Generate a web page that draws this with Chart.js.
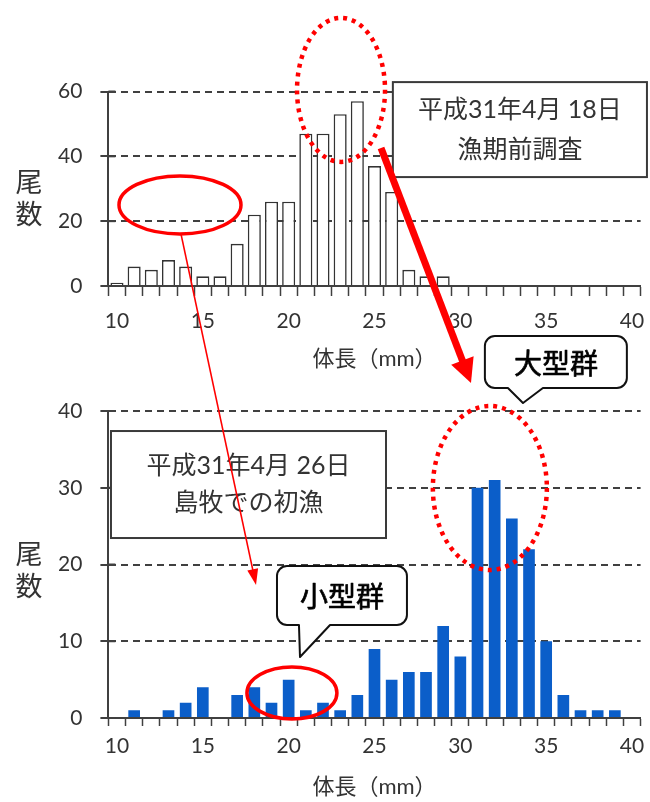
<!DOCTYPE html>
<html><head><meta charset="utf-8">
<script src="https://cdn.jsdelivr.net/npm/chart.js@4"></script>
<style>
html,body{margin:0;padding:0;background:#fff;}
#wrap{position:relative;width:650px;height:802px;overflow:hidden;background:#fff;}
#c1{position:absolute;left:0;top:0;}
#c2{position:absolute;left:0;top:395px;}
#ov{position:absolute;left:0;top:0;pointer-events:none;}
</style></head><body>
<div id="wrap">
<canvas id="c1" width="650" height="395"></canvas>
<canvas id="c2" width="650" height="407"></canvas>
<canvas id="ov" width="650" height="802"></canvas>
</div>
<script>
// ---- data ----
const lengthsMm = ['10','11','12','13','14','15','16','17','18','19','20','21','22','23','24','25','26','27','28','29','30','31','32','33','34','35','36','37','38','39','40'];
const preSeasonCounts  = [1,6,5,8,6,3,3,13,22,26,26,47,47,53,57,37,29,5,3,3,0,0,0,0,0,0,0,0,0,0,0];
const firstCatchCounts = [0,1,0,1,2,4,0,3,4,2,5,1,2,1,3,9,5,6,6,12,8,30,31,26,22,10,3,1,1,1,0];
const yTicksTop = [0,20,40,60];
const yTicksBottom = [0,10,20,30,40];
const xLabelStep = 5;
const xTitle = '体長（mm）';
const yTitleChars = ['尾','数'];
const boxTopLines = ['平成31年4月 18日','漁期前調査'];
const boxBottomLines = ['平成31年4月 26日','島牧での初漁'];
const bigGroupLabel = '大型群';
const smallGroupLabel = '小型群';

// ---- styles ----
const AX = '#404040', TXT = '#333333';
const NUM = 'Lato, "Noto Sans CJK JP", sans-serif';
const JP = 'Lato, "Noto Sans CJK JP", sans-serif';
const RED = '#ff0000';

// inner half of the y tick marks (ticks cross the axis line)
const crossTicks = {
  id:'crossTicks',
  afterDraw(chart){
    const y = chart.scales.y, c = chart.ctx, x0 = chart.chartArea.left;
    c.save(); c.strokeStyle = AX; c.lineWidth = 2;
    y.ticks.forEach(t => { const py = y.getPixelForValue(t.value);
      c.beginPath(); c.moveTo(x0, py); c.lineTo(x0 + 7, py); c.stroke(); });
    c.restore();
  }
};

function makeOptions(o){
  return {
    responsive:false, animation:false,
    layout:{padding:{top:o.padTop, right:9.4, left:0, bottom:0}},
    plugins:{legend:{display:false}, tooltip:{enabled:false}},
    scales:{
      x:{
        type:'category', offset:true,
        afterFit(s){ s.height = o.xHeight; s.paddingLeft = 0; s.paddingRight = 0; },
        grid:{display:true, offset:true, drawOnChartArea:false, drawTicks:true,
              tickLength:o.xTickLen, tickColor:AX, tickWidth:1.5, color:AX},
        border:{display:true, color:AX, width:2},
        ticks:{autoSkip:false, maxRotation:0, minRotation:0, padding:o.xLabelPad, color:TXT,
               font:{family:NUM, size:21},
               callback(v){ const l=this.getLabelForValue(v); return Number(l)%xLabelStep===0 ? l : ''; }},
        title:{display:true, text:xTitle, color:TXT, font:{family:JP, size:22},
               padding:{top:0,bottom:o.titlePadBottom}}
      },
      y:{
        min:o.yTicks[0], max:o.yTicks[o.yTicks.length-1],
        afterFit(s){ s.width = 108.4; s.paddingTop = 0; s.paddingBottom = 0; },
        grid:{color:AX, lineWidth:2, drawTicks:true, tickLength:8, tickColor:AX, tickWidth:2},
        border:{display:true, color:AX, width:2, dash:[7,5]},
        ticks:{stepSize:o.yTicks[1]-o.yTicks[0], padding:18, color:TXT, font:{family:NUM, size:21}}
      }
    }
  };
}

const chartTop = new Chart(document.getElementById('c1'), {
  type:'bar',
  data:{labels:lengthsMm, datasets:[{data:preSeasonCounts, backgroundColor:'#ffffff', borderColor:'#333333',
        borderWidth:1.6, barPercentage:0.76, categoryPercentage:1}]},
  options:makeOptions({padTop:91.5, xHeight:109, xTickLen:10, xLabelPad:12.4, titlePadBottom:22.8, yTicks:yTicksTop}),
  plugins:[crossTicks]
});
const chartBot = new Chart(document.getElementById('c2'), {
  type:'bar',
  data:{labels:lengthsMm, datasets:[{data:firstCatchCounts, backgroundColor:'#0b5ec9', borderWidth:0,
        barPercentage:0.68, categoryPercentage:1}]},
  options:makeOptions({padTop:16, xHeight:84, xTickLen:8, xLabelPad:7.4, titlePadBottom:1.8, yTicks:yTicksBottom}),
  plugins:[crossTicks]
});

// ---- annotations anchored to the chart scales ----
const T = {chart:chartTop, top:0}, B = {chart:chartBot, top:395};
function P(p, idx, v){ return [p.chart.scales.x.getPixelForValue(idx), p.top + p.chart.scales.y.getPixelForValue(v)]; }

const ov = document.getElementById('ov');
const dpr = window.devicePixelRatio || 1;
ov.width = 650*dpr; ov.height = 802*dpr; ov.style.width='650px'; ov.style.height='802px';
const ctx = ov.getContext('2d');
ctx.scale(dpr,dpr);

function ellipse(c, rx, ry, dotted, lw){
  ctx.save(); ctx.strokeStyle = RED; ctx.lineWidth = lw;
  if (dotted) ctx.setLineDash([4,5]);
  ctx.beginPath(); ctx.ellipse(c[0], c[1], rx, ry, 0, 0, Math.PI*2); ctx.stroke(); ctx.restore();
}
function arrow(a, b, lw, hl, hw){
  const dx=b[0]-a[0], dy=b[1]-a[1], L=Math.hypot(dx,dy), ux=dx/L, uy=dy/L;
  const bx=b[0]-ux*hl, by=b[1]-uy*hl;
  ctx.save(); ctx.strokeStyle=RED; ctx.fillStyle=RED; ctx.lineWidth=lw;
  ctx.beginPath(); ctx.moveTo(a[0],a[1]); ctx.lineTo(bx+ux*1,by+uy*1); ctx.stroke();
  ctx.beginPath(); ctx.moveTo(b[0],b[1]);
  ctx.lineTo(bx - uy*hw/2, by + ux*hw/2); ctx.lineTo(bx + uy*hw/2, by - ux*hw/2); ctx.closePath(); ctx.fill();
  ctx.restore();
}
function box(p0, p1, lines, dy){
  const x0=p0[0], y0=p0[1], x1=p1[0], y1=p1[1];
  ctx.save(); ctx.fillStyle='#fff'; ctx.strokeStyle='#3a3a3a'; ctx.lineWidth=2;
  ctx.fillRect(x0,y0,x1-x0,y1-y0); ctx.strokeRect(x0,y0,x1-x0,y1-y0);
  ctx.fillStyle=TXT; ctx.font='25px '+JP; ctx.textAlign='center'; ctx.textBaseline='middle';
  const cx=(x0+x1)/2, cy=(y0+y1)/2;
  ctx.fillText(lines[0], cx, cy-dy); ctx.fillText(lines[1], cx, cy+dy);
  ctx.restore();
}
function bubble(p0, p1, n0, n1, tip, text){
  const x0=p0[0], y0=p0[1], x1=p1[0], y1=p1[1], r=10;
  ctx.save(); ctx.fillStyle='#fff'; ctx.strokeStyle='#111'; ctx.lineWidth=2; ctx.lineJoin='round';
  ctx.beginPath();
  ctx.moveTo(x0+r,y0); ctx.lineTo(x1-r,y0); ctx.arcTo(x1,y0,x1,y0+r,r);
  ctx.lineTo(x1,y1-r); ctx.arcTo(x1,y1,x1-r,y1,r);
  ctx.lineTo(n1,y1); ctx.lineTo(tip[0],tip[1]); ctx.lineTo(n0,y1);
  ctx.lineTo(x0+r,y1); ctx.arcTo(x0,y1,x0,y1-r,r);
  ctx.lineTo(x0,y0+r); ctx.arcTo(x0,y0,x0+r,y0,r); ctx.closePath();
  ctx.fill(); ctx.stroke();
  ctx.fillStyle='#000'; ctx.strokeStyle='#000'; ctx.lineWidth=0.7;
  ctx.font='28px "Noto Sans CJK JP", sans-serif'; ctx.textAlign='center'; ctx.textBaseline='middle';
  ctx.fillText(text, (x0+x1)/2, (y0+y1)/2+1);
  ctx.strokeText(text, (x0+x1)/2, (y0+y1)/2+1);
  ctx.restore();
}
function yTitle(p, vTop, vBot){
  ctx.save(); ctx.fillStyle=TXT; ctx.font='27px "Noto Sans CJK JP", sans-serif'; ctx.textAlign='center'; ctx.textBaseline='middle';
  const x = p.chart.scales.y.left + 29;
  ctx.fillText(yTitleChars[0], x, P(p,0,vTop)[1]);
  ctx.fillText(yTitleChars[1], x, P(p,0,vBot)[1]);
  ctx.restore();
}

yTitle(T, 32.1, 22.2);
yTitle(B, 21.4, 17.2);

// top chart
box(P(T,16.07,62.9), P(T,30.87,33.6), boxTopLines, 20);
ellipse(P(T,13.05,60.5), 44, 72, true, 4.5);
ellipse(P(T,3.67,25.0), 61, 29, false, 3.5);
// bottom chart
box(P(B,-0.35,37.39), P(B,15.67,23.45), boxBottomLines, 18.5);
ellipse(P(B,21.72,29.97), 57, 82, true, 4.5);
ellipse(P(B,10.19,3.26), 45, 26, false, 3.5);
// arrows
arrow(P(T,15.38,42.6), P(B,20.62,43.65), 7, 24, 24);
arrow(P(T,3.73,16.0), P(B,8.10,17.33), 1.6, 16, 11);
// bubbles
(function(){
  const a=P(B,21.43,49.77), b=P(B,29.70,43.0);
  bubble(a,b,P(B,22.77,0)[0],P(B,24.81,0)[0],P(B,23.65,41.04),bigGroupLabel);
  const c=P(B,9.32,19.8), d=P(B,16.89,12.12);
  bubble(c,d,P(B,10.6,0)[0],P(B,12.41,0)[0],P(B,10.66,7.95),smallGroupLabel);
})();
</script>
</body></html>
